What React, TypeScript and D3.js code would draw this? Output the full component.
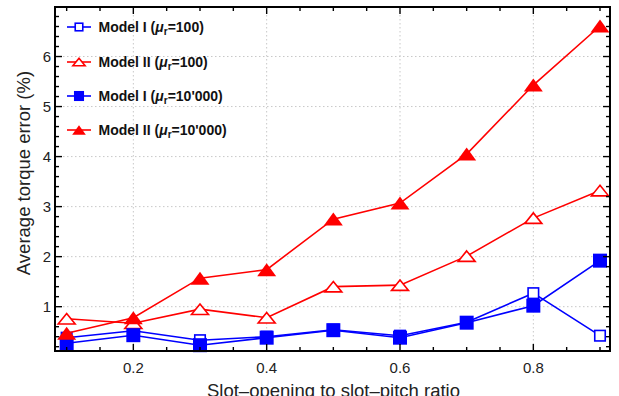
import React from "react";
import * as d3 from "d3";

// Slot-opening to slot-pitch ratio
const ratios = [0.1, 0.2, 0.3, 0.4, 0.5, 0.6, 0.7, 0.8, 0.9];
// Average torque error (%) per model and relative permeability
const modelIMu100 = [0.38, 0.52, 0.33, 0.4, 0.54, 0.42, 0.69, 1.27, 0.42];
const modelIIMu100 = [0.76, 0.67, 0.95, 0.78, 1.4, 1.43, 2.01, 2.77, 3.32];
const modelIMu10000 = [0.27, 0.43, 0.23, 0.38, 0.53, 0.38, 0.68, 1.02, 1.92];
const modelIIMu10000 = [0.47, 0.78, 1.57, 1.74, 2.75, 3.07, 4.05, 5.43, 6.61];

const xMajorTicks = [0.2, 0.4, 0.6, 0.8];
const yMajorTicks = [1, 2, 3, 4, 5, 6];

const W = 619;
const H = 396;
const left = 55;
const right = 610;
const top = 7;
const bottom = 351;

const FONT = "'Liberation Sans', Arial, sans-serif";
const BLUE = "#0000ff";
const RED = "#ff0000";

type Marker = "openSquare" | "openTriangle" | "filledSquare" | "filledTriangle";

const seriesList: { name: string; mu: string; values: number[]; color: string; marker: Marker }[] = [
  { name: "Model I", mu: "100", values: modelIMu100, color: BLUE, marker: "openSquare" },
  { name: "Model II", mu: "100", values: modelIIMu100, color: RED, marker: "openTriangle" },
  { name: "Model I", mu: "10'000", values: modelIMu10000, color: BLUE, marker: "filledSquare" },
  { name: "Model II", mu: "10'000", values: modelIIMu10000, color: RED, marker: "filledTriangle" },
];

function MarkerShape({ kind, cx, cy, color, scale = 1 }: { kind: Marker; cx: number; cy: number; color: string; scale?: number }) {
  if (kind === "openSquare") {
    const s = 10.5 * scale;
    return <rect x={cx - s / 2} y={cy - s / 2} width={s} height={s} fill="white" stroke={color} strokeWidth={1.6} />;
  }
  if (kind === "filledSquare") {
    const s = 14 * scale;
    return <rect x={cx - s / 2} y={cy - s / 2} width={s} height={s} fill={color} />;
  }
  if (kind === "openTriangle") {
    const w = 17 * scale;
    const h = 10.5 * scale;
    const p = `M${cx},${cy - h / 2}L${cx + w / 2},${cy + h / 2}L${cx - w / 2},${cy + h / 2}Z`;
    return <path d={p} fill="white" stroke={color} strokeWidth={1.6} strokeLinejoin="miter" />;
  }
  const w = 19 * scale;
  const h = 13 * scale;
  const p = `M${cx},${cy - h / 2}L${cx + w / 2},${cy + h / 2}L${cx - w / 2},${cy + h / 2}Z`;
  return <path d={p} fill={color} />;
}

export default function App() {
  const x = d3.scaleLinear().domain([0.0825, 0.915]).range([left, right]);
  const y = d3.scaleLinear().domain([0.114, 6.99]).range([bottom, top]);

  const line = d3
    .line<number>()
    .x((_, i) => x(ratios[i]))
    .y((d) => y(d));

  const xMinor = d3.range(0.1, 0.91, 0.05).filter((v) => !xMajorTicks.some((m) => Math.abs(m - v) < 1e-6));
  const yMinor = d3.range(0.2, 6.99, 0.2).filter((v) => !yMajorTicks.some((m) => Math.abs(m - v) < 1e-6));

  const legendRows = [27, 62, 96, 130];

  return (
    <svg width={W} height={H} style={{ position: "absolute", left: 0, top: 0, background: "white" }}>
      {/* grid */}
      <g stroke="#c8c8c8" strokeWidth={1} strokeDasharray="1.5,2.5">
        {xMajorTicks.map((t) => (
          <line key={`gx${t}`} x1={x(t)} x2={x(t)} y1={top} y2={bottom} />
        ))}
        {yMajorTicks.map((t) => (
          <line key={`gy${t}`} x1={left} x2={right} y1={y(t)} y2={y(t)} />
        ))}
      </g>

      {/* series */}
      {seriesList.map((s, si) => (
        <g key={si}>
          <path d={line(s.values) || ""} fill="none" stroke={s.color} strokeWidth={1.6} />
          {s.values.map((v, i) => (
            <MarkerShape key={i} kind={s.marker} cx={x(ratios[i])} cy={y(v)} color={s.color} />
          ))}
        </g>
      ))}

      {/* frame ticks */}
      <g stroke="black" strokeWidth={1.4}>
        {xMajorTicks.map((t) => (
          <g key={`tx${t}`}>
            <line x1={x(t)} x2={x(t)} y1={bottom} y2={bottom - 7} />
            <line x1={x(t)} x2={x(t)} y1={top} y2={top + 7} />
          </g>
        ))}
        {xMinor.map((t) => (
          <g key={`mx${t}`}>
            <line x1={x(t)} x2={x(t)} y1={bottom} y2={bottom - 4} />
            <line x1={x(t)} x2={x(t)} y1={top} y2={top + 4} />
          </g>
        ))}
        {yMajorTicks.map((t) => (
          <g key={`ty${t}`}>
            <line x1={left} x2={left + 7} y1={y(t)} y2={y(t)} />
            <line x1={right} x2={right - 7} y1={y(t)} y2={y(t)} />
          </g>
        ))}
        {yMinor.map((t) => (
          <g key={`my${t}`}>
            <line x1={left} x2={left + 4} y1={y(t)} y2={y(t)} />
            <line x1={right} x2={right - 4} y1={y(t)} y2={y(t)} />
          </g>
        ))}
      </g>
      <rect x={left} y={top} width={right - left} height={bottom - top} fill="none" stroke="black" strokeWidth={2} />

      {/* tick labels */}
      <g fontFamily={FONT} fontSize={15} fill="#222">
        {xMajorTicks.map((t) => (
          <text key={`lx${t}`} x={x(t)} y={373} textAnchor="middle">
            {d3.format(".1f")(t)}
          </text>
        ))}
        {yMajorTicks.map((t) => (
          <text key={`ly${t}`} x={51} y={y(t) + 5.5} textAnchor="end">
            {t}
          </text>
        ))}
      </g>

      {/* axis titles */}
      <text x={(left + right) / 2 + 1} y={397} textAnchor="middle" fontFamily={FONT} fontSize={18.5} fill="#222">
        Slot–opening to slot–pitch ratio
      </text>
      <text
        transform={`translate(29.5,${173}) rotate(-90)`}
        textAnchor="middle"
        fontFamily={FONT}
        fontSize={18.5}
        fill="#222"
      >
        Average torque error (%)
      </text>

      {/* legend */}
      {seriesList.map((s, i) => {
        const cy = legendRows[i];
        return (
          <g key={`lg${i}`}>
            <line x1={67} x2={91} y1={cy} y2={cy} stroke={s.color} strokeWidth={1.6} />
            <MarkerShape kind={s.marker} cx={79} cy={cy} color={s.color} scale={0.72} />
            <text x={98.5} y={cy + 5} fontFamily={FONT} fontSize={14} fontWeight="bold" fill="#111">
              {`${s.name} (`}
              <tspan fontStyle="italic">μ</tspan>
              <tspan fontSize={10} dy={3}>r</tspan>
              <tspan dy={-3}>{`=${s.mu})`}</tspan>
            </text>
          </g>
        );
      })}
    </svg>
  );
}
